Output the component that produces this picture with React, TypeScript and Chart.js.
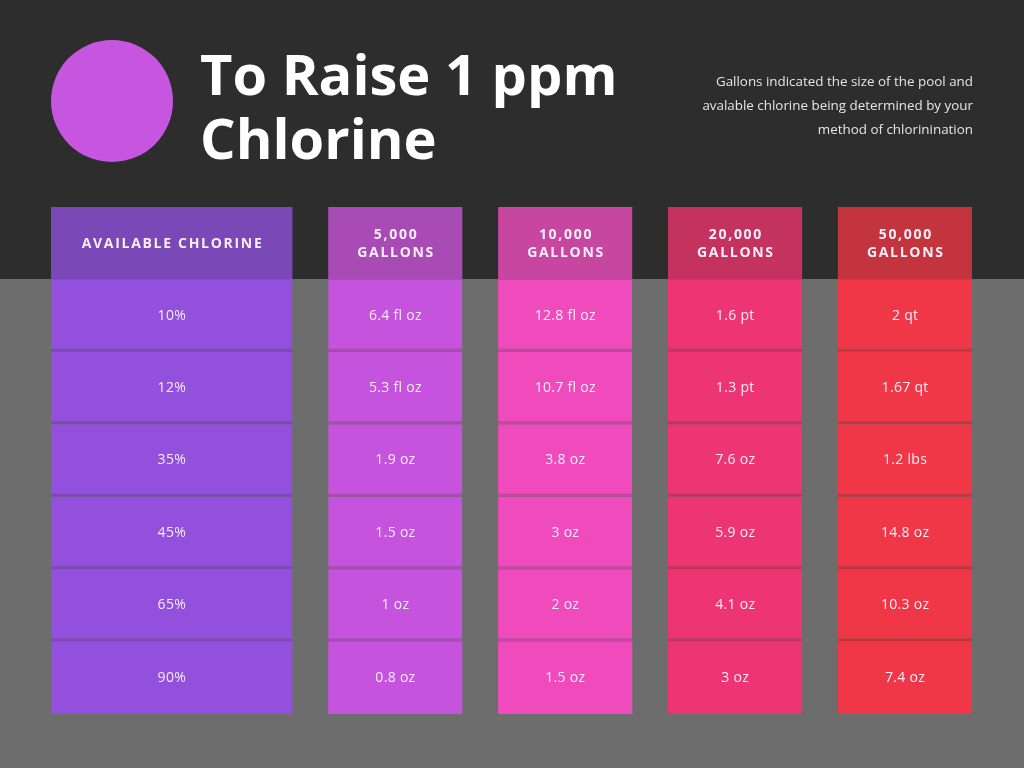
import React, { useEffect, useRef } from "react";
import { Chart, registerables } from "chart.js";

Chart.register(...registerables);

// ---------- content ----------
const titleLines = ["To Raise 1 ppm", "Chlorine"];
const noteLines = [
  "Gallons indicated the size of the pool and",
  "avalable chlorine being determined by your",
  "method of chlorinination",
];
const columnHeaders = [
  ["AVAILABLE CHLORINE"],
  ["5,000", "GALLONS"],
  ["10,000", "GALLONS"],
  ["20,000", "GALLONS"],
  ["50,000", "GALLONS"],
];
const chlorineLevels = ["10%", "12%", "35%", "45%", "65%", "90%"];
const gallons5000 = ["6.4 fl oz", "5.3 fl oz", "1.9 oz", "1.5 oz", "1 oz", "0.8 oz"];
const gallons10000 = ["12.8 fl oz", "10.7 fl oz", "3.8 oz", "3 oz", "2 oz", "1.5 oz"];
const gallons20000 = ["1.6 pt", "1.3 pt", "7.6 oz", "5.9 oz", "4.1 oz", "3 oz"];
const gallons50000 = ["2 qt", "1.67 qt", "1.2 lbs", "14.8 oz", "10.3 oz", "7.4 oz"];
const columnValues = [chlorineLevels, gallons5000, gallons10000, gallons20000, gallons50000];
const rowLabels = ["header", ...chlorineLevels];

// ---------- style / layout ----------
const headerColors = ["#7b48b7", "#a94bb4", "#c646a0", "#c4335f", "#c4343f"];
const bodyColors = ["#9350dc", "#c653dd", "#ef4bbd", "#ee3573", "#ef3747"];
const COL_UNITS = [27, 15, 15, 15, 15];
const GAP_UNITS = 4;
const DARK_BG = "#2d2d2d";
const GRAY_BG = "#6d6d6d";
const FONT = '"Open Sans", "Noto Sans", sans-serif';

function columnSpans() {
  let acc = 0;
  const spans: number[][] = [];
  COL_UNITS.forEach((w) => {
    spans.push([acc, acc + w]);
    acc += w + GAP_UNITS;
  });
  return { spans, total: acc - GAP_UNITS };
}

function drawSpaced(ctx: CanvasRenderingContext2D, text: string, cx: number, y: number, spacing: number) {
  const chars = Array.from(text);
  const widths = chars.map((ch) => ctx.measureText(ch).width);
  const total = widths.reduce((a, b) => a + b, 0) + spacing * (chars.length - 1);
  let x = cx - total / 2;
  ctx.textAlign = "left";
  chars.forEach((ch, i) => {
    ctx.fillText(ch, x, y);
    x += widths[i] + spacing;
  });
}

const backgroundPlugin = {
  id: "twoToneBackground",
  beforeDraw(chart: any) {
    const ctx = chart.ctx;
    const head = chart.getDatasetMeta(0).data[0];
    const split = head.y + head.height / 2;
    ctx.save();
    ctx.fillStyle = GRAY_BG;
    ctx.fillRect(0, 0, chart.width, chart.height);
    ctx.fillStyle = DARK_BG;
    ctx.fillRect(0, 0, chart.width, Math.floor(split));
    ctx.restore();
  },
};

const cellTextPlugin = {
  id: "cellText",
  afterDatasetsDraw(chart: any) {
    const ctx = chart.ctx;
    ctx.save();
    chart.data.datasets.forEach((_ds: any, c: number) => {
      const meta = chart.getDatasetMeta(c);
      meta.data.forEach((el: any, r: number) => {
        const { x, y, base } = el.getProps(["x", "y", "base"], true);
        const cx = (x + base) / 2;
        ctx.textBaseline = "middle";
        if (r === 0) {
          const lines = columnHeaders[c];
          ctx.font = `700 14px ${FONT}`;
          ctx.fillStyle = "#f6eff8";
          lines.forEach((line, i) => {
            const ly = y + (i - (lines.length - 1) / 2) * 18 + 0.5;
            drawSpaced(ctx, line, cx, ly, 1.7);
          });
        } else {
          ctx.font = `400 14px ${FONT}`;
          ctx.fillStyle = "#f4ecf6";
          drawSpaced(ctx, columnValues[c][r - 1], cx, y, 0.3);
        }
      });
    });
    ctx.restore();
  },
};

export default function App() {
  const canvasRef = useRef<HTMLCanvasElement | null>(null);

  useEffect(() => {
    const canvas = canvasRef.current;
    if (!canvas) return;
    const { spans, total } = columnSpans();
    const lastRow = rowLabels.length - 1;
    const chart = new Chart(canvas, {
      type: "bar",
      data: {
        labels: rowLabels,
        datasets: columnHeaders.map((h, c) => ({
          label: h.join(" "),
          data: rowLabels.map(() => spans[c].slice()),
          backgroundColor: (ctx: any) => (ctx.dataIndex === 0 ? headerColors[c] : bodyColors[c]),
          borderColor: headerColors[c],
          borderWidth: (ctx: any) =>
            ctx.dataIndex >= 1 && ctx.dataIndex < lastRow ? { top: 0, left: 0, right: 0, bottom: 3 } : 0,
          borderSkipped: false,
          grouped: false,
          barPercentage: 1,
          categoryPercentage: 1,
          inflateAmount: 0,
        })),
      } as any,
      options: {
        indexAxis: "y",
        responsive: false,
        animation: false,
        devicePixelRatio: 1,
        events: [],
        layout: { padding: { left: 51, right: 52, top: 207, bottom: 54 } },
        scales: {
          x: { type: "linear", min: 0, max: total, display: false },
          y: { type: "category", display: false, offset: true },
        },
        plugins: { legend: { display: false }, tooltip: { enabled: false } },
      } as any,
      plugins: [backgroundPlugin, cellTextPlugin],
    });
    return () => chart.destroy();
  }, []);

  return (
    <div
      style={{
        position: "absolute",
        left: 0,
        top: 0,
        width: 1024,
        height: 768,
        overflow: "hidden",
        fontFamily: FONT,
        background: GRAY_BG,
      }}
    >
      <canvas ref={canvasRef} width={1024} height={768} style={{ position: "absolute", left: 0, top: 0, display: "block" }} />
      <div
        style={{
          position: "absolute",
          left: 51,
          top: 40,
          width: 122,
          height: 122,
          borderRadius: "50%",
          background: "#c655df",
        }}
      />
      <div
        style={{
          position: "absolute",
          left: 200,
          top: 41,
          color: "#ffffff",
          fontWeight: 700,
          fontSize: 56,
          lineHeight: "64px",
          whiteSpace: "nowrap",
        }}
      >
        {titleLines.map((t) => (
          <div key={t}>{t}</div>
        ))}
      </div>
      <div
        style={{
          position: "absolute",
          right: 51,
          top: 69,
          color: "#e4e4e4",
          fontSize: 13.4,
          lineHeight: "24px",
          textAlign: "right",
          whiteSpace: "nowrap",
        }}
      >
        {noteLines.map((t) => (
          <div key={t}>{t}</div>
        ))}
      </div>
    </div>
  );
}
